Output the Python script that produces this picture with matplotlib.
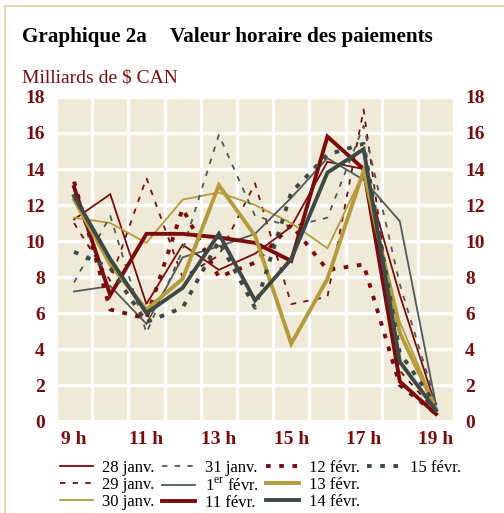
import matplotlib
matplotlib.use('Agg')
import matplotlib.pyplot as plt
from matplotlib.lines import Line2D

plt.rcParams['font.family'] = ['Liberation Serif', 'DejaVu Serif']
plt.rcParams['mathtext.fontset'] = 'custom'
plt.rcParams['mathtext.rm'] = 'Liberation Serif'

# heures et valeurs (milliards de $ CAN)
hours = [9, 10, 11, 12, 13, 14, 15, 16, 17, 18, 19]
jan28 = [11.2, 12.6, 6.5, 9.8, 8.4, 9.3, 10.8, 14.4, 14.0, 7.0, 0.8]
jan29 = [11.0, 7.8, 13.5, 8.0, 9.2, 13.2, 6.5, 6.9, 17.3, 2.8, 0.5]
jan30 = [11.3, 11.0, 9.9, 12.3, 12.7, 12.0, 11.0, 9.6, 13.8, 5.5, 0.8]
jan31 = [7.7, 11.4, 4.9, 9.5, 15.9, 11.4, 10.8, 11.3, 16.4, 7.6, 1.0]
feb01 = [7.2, 7.5, 5.4, 9.1, 9.7, 10.4, 12.4, 14.6, 13.4, 11.1, 0.9]
feb11 = [13.0, 7.0, 10.4, 10.4, 10.2, 9.9, 8.9, 15.8, 14.0, 2.2, 0.4]
feb12 = [13.3, 6.2, 5.7, 11.8, 8.0, 8.8, 10.9, 8.4, 8.7, 2.0, 0.4]
feb13 = [12.3, 8.7, 6.2, 7.9, 13.1, 10.3, 4.3, 7.9, 13.9, 4.9, 0.7]
feb14 = [12.5, 9.0, 6.0, 7.4, 10.4, 6.7, 9.0, 13.8, 15.1, 3.3, 0.6]
feb15 = [9.4, 8.5, 5.5, 6.3, 10.0, 6.3, 12.7, 14.8, 15.4, 3.8, 0.9]

xtick_labels = ['9 h', '11 h', '13 h', '15 h', '17 h', '19 h']

red = '#7a0c0c'
gold = '#b59b3c'
grey = '#3e4946'
grey2 = '#4f5a58'
beige = '#efe9d8'

thin = 1.3
thick = 2.8
series = [
    (jan28, '28 janv.', red, thin, '-'),
    (jan29, '29 janv.', red, thin, (0, (3, 4))),
    (jan30, '30 janv.', gold, thin, '-'),
    (jan31, '31 janv.', grey2, thin, (0, (3, 4))),
    (feb01, '1$^{\\mathrm{er}}$ févr.', grey2, thin, '-'),
    (feb11, '11 févr.', red, thick, '-'),
    (feb12, '12 févr.', red, thick, (0, (1.2, 2.2))),
    (feb13, '13 févr.', gold, thick, '-'),
    (feb14, '14 févr.', grey, thick, '-'),
    (feb15, '15 févr.', grey, thick, (0, (1.2, 2.2))),
]

fig = plt.figure(figsize=(5.04, 5.13), dpi=100)
ax = fig.add_axes([0.111, 0.179, 0.790, 0.632])
ax.set_facecolor(beige)

for vals, lab, col, lw, ls in series:
    ax.plot(hours, vals, color=col, lw=lw, linestyle=ls, label=lab,
            solid_joinstyle='miter', dash_capstyle='butt', zorder=3)

ax.set_xlim(8.5, 19.5)
ax.set_ylim(0, 18)
ax.set_xticks([9, 11, 13, 15, 17, 19])
ax.set_xticklabels(xtick_labels)
ax.set_yticks(range(0, 19, 2))
for x in [8.5 + i for i in range(12)]:
    ax.axvline(x, color='white', lw=2.3, zorder=1)
for y in range(0, 19, 2):
    ax.axhline(y, color='white', lw=2.3, zorder=1)
for s in ax.spines.values():
    s.set_visible(False)
ax.tick_params(axis='both', length=0, labelcolor=red, labelsize=14)
ax.tick_params(axis='y', labelright=True, pad=8)
ax.tick_params(axis='x', pad=7)
for t in ax.get_xticklabels() + ax.yaxis.get_ticklabels() + \
        [tk.label2 for tk in ax.yaxis.get_major_ticks()]:
    t.set_fontweight('bold')

# titres
fig.text(22 / 504, 1 - 42 / 513, 'Graphique 2a', fontsize=15.2,
         fontweight='bold', color='black', va='baseline')
fig.text(170 / 504, 1 - 42 / 513, 'Valeur horaire des paiements',
         fontsize=15.2, fontweight='bold', color='black', va='baseline')
fig.text(22 / 504, 1 - 82 / 513, 'Milliards de \\$ CAN', fontsize=14,
         color=red, va='baseline')

# cadre
fig.add_artist(Line2D([5 / 504, 1], [1 - 6 / 513, 1 - 6 / 513],
                      color='#e3d9b4', lw=1.5))
fig.add_artist(Line2D([5 / 504, 5 / 504], [0, 1 - 6 / 513],
                      color='#e3d9b4', lw=1.5))

handles, labels = ax.get_legend_handles_labels()
blank = Line2D([], [], color='none')
handles = handles + [blank, blank]
labels = labels + ['', '']
fig.legend(handles, labels, loc='upper left', ncol=4,
           bbox_to_anchor=(0.105, 0.116), frameon=False, fontsize=12,
           handlelength=2.0, handletextpad=0.55, columnspacing=0.45,
           labelspacing=0.05, borderaxespad=0)

fig.savefig('out.png', dpi=100)
